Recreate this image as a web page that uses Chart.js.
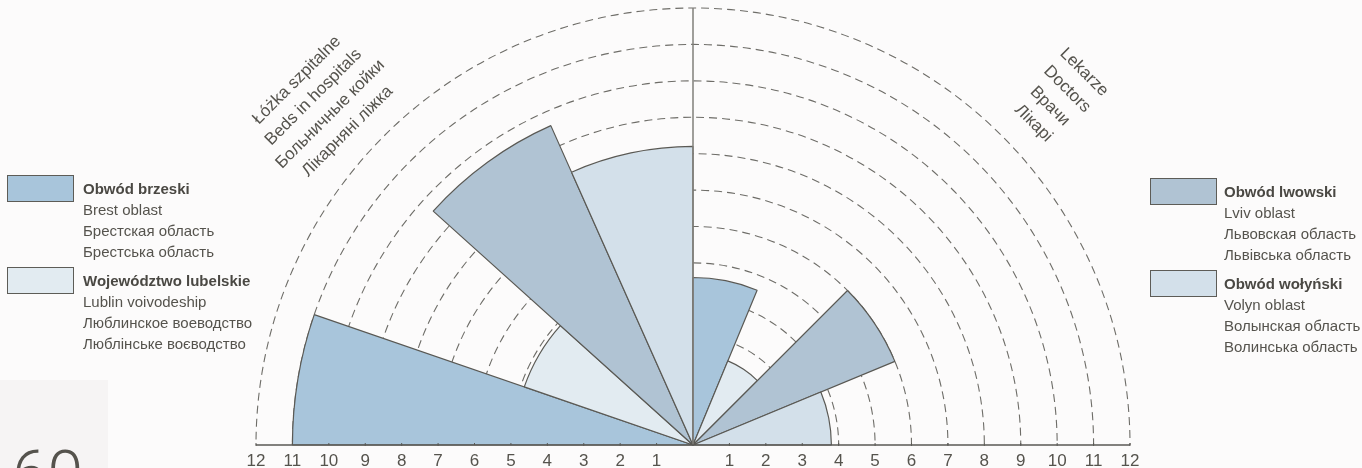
<!DOCTYPE html>
<html>
<head>
<meta charset="utf-8">
<script src="https://cdn.jsdelivr.net/npm/chart.js@4.4.1/dist/chart.umd.min.js"></script>
<style>
  html, body { margin: 0; padding: 0; }
  body {
    width: 1362px; height: 468px; overflow: hidden; position: relative;
    background: #fcfbfb; color: #55534d;
    font-family: "Liberation Sans", Arial, sans-serif;
  }
  #strip { position: absolute; left: 0; top: 380px; width: 108px; height: 88px; background: #f6f4f4; }
  #wrap { position: absolute; left: 0; top: 0; width: 1362px; height: 890px; }
  #chart { display: block; }
  .box { position: absolute; width: 65px; height: 25px; border: 1px solid #5d5c57; }
  .txt { position: absolute; font-size: 15px; line-height: 21px; white-space: nowrap; }
  .txt b { color: #4a4843; }
  .title { position: absolute; font-size: 17px; line-height: 20px; white-space: nowrap; }
  #page-num { position: absolute; left: 12px; top: 443px; font: 300 64px Roboto, sans-serif; line-height: 64px; color: #55534d; }
</style>
</head>
<body>
<div id="strip"></div>
<div id="wrap"><canvas id="chart" width="1362" height="890"></canvas></div>
<div id="page-num">60</div>
<script>
// ── Data ──────────────────────────────────────────────────────────────────
const regionNames   = ["Obwód brzeski", "Województwo lubelskie", "Obwód lwowski", "Obwód wołyński"];
const regionNamesEn = ["Brest oblast", "Lublin voivodeship", "Lviv oblast", "Volyn oblast"];
const regionNamesRu = ["Брестская область", "Люблинское воеводство", "Львовская область", "Волынская область"];
const regionNamesUa = ["Брестська область", "Люблінське воєводство", "Львівська область", "Волинська область"];
const regionColors  = ["#a8c5db", "#e2ebf1", "#b0c3d3", "#d3e0ea"];

// left half: hospital beds, right half: doctors (same region order)
const bedsValues    = [11.0, 4.9, 9.6, 8.2];
const doctorsValues = [4.6, 2.5, 6.0, 3.8];
const tickValues    = [1, 2, 3, 4, 5, 6, 7, 8, 9, 10, 11, 12];

// angular width of each wedge (deg) as drawn in the original
const bedsSpan    = [19, 23, 24, 24];
const doctorsSpan = [22.5, 22.5, 22.5, 22.5];

const bedsTitle    = ["Łóżka szpitalne", "Beds in hospitals", "Больничные койки", "Лікарняні ліжка"];
const doctorsTitle = ["Lekarze", "Doctors", "Врачи", "Лікарі"];

const LINE = "#5a5954";
const TEXT = "#55534d";

// ── Half disc helper: hide lower half of grid, draw axis + labels ─────────

const halfPlane = {
  id: "halfPlane",
  beforeDatasetsDraw(chart) {
    const r = chart.scales.r;
    chart.ctx.clearRect(0, r.yCenter + 1, chart.width, chart.height);
  },
  afterDraw(chart) {
    const r = chart.scales.r;
    const ctx = chart.ctx;
    const cx = r.xCenter, cy = r.yCenter;
    const full = r.getDistanceFromCenterForValue(r.max);
    ctx.save();
    // vertical divider between the two halves
    ctx.strokeStyle = "#807f7a";
    ctx.lineWidth = 1.5;
    ctx.beginPath();
    ctx.moveTo(cx, cy);
    ctx.lineTo(cx, cy - full);
    ctx.stroke();
    // baseline
    ctx.strokeStyle = LINE;
    ctx.lineWidth = 1.5;
    ctx.beginPath();
    ctx.moveTo(cx - full, cy);
    ctx.lineTo(cx + full, cy);
    ctx.stroke();
    // ticks + labels on both sides
    ctx.fillStyle = TEXT;
    ctx.font = '17px "Liberation Sans", Arial, sans-serif';
    ctx.textAlign = "center";
    ctx.textBaseline = "middle";
    ctx.lineWidth = 1;
    tickValues.forEach(v => {
      const d = r.getDistanceFromCenterForValue(v);
      [-1, 1].forEach(s => {
        const x = cx + s * d;
        ctx.beginPath();
        ctx.moveTo(x, cy);
        ctx.lineTo(x, cy - 2);
        ctx.stroke();
        ctx.fillText(String(v), x, cy + 16);
      });
    });
    ctx.restore();
  }
};

// ── Chart ─────────────────────────────────────────────────────────────────

const labels = [
  ...regionNames.map(n => "Beds – " + n),
  ...regionNames.map(n => "Doctors – " + n)
];

new Chart(document.getElementById("chart").getContext("2d"), {
  type: "polarArea",
  data: {
    labels,
    datasets: [{
      data: [...bedsValues, ...doctorsValues],
      backgroundColor: [...regionColors, ...regionColors],
      borderColor: LINE,
      borderWidth: 1.2,
      angle: [...bedsSpan, ...doctorsSpan]
    }]
  },
  options: {
    responsive: false,
    animation: false,
    layout: { padding: { left: 24, right: 0, top: 8, bottom: 8 } },
    plugins: { legend: { display: false }, tooltip: { enabled: false } },
    scales: {
      r: {
        min: 0,
        max: 12,
        startAngle: -90,
        ticks: { display: false, stepSize: 1 },
        grid: { circular: true, color: "#6e6d68", lineWidth: 1.1 },
        border: { dash: [8, 5] },
        angleLines: { display: false },
        pointLabels: { display: false }
      }
    }
  },
  plugins: [halfPlane]
});

// ── Legends ───────────────────────────────────────────────────────────────

function addLegend(i, boxLeft, txtLeft, top) {
  const box = document.createElement("div");
  box.className = "box";
  box.style.left = boxLeft + "px";
  box.style.top = top + "px";
  box.style.background = regionColors[i];
  document.body.appendChild(box);

  const txt = document.createElement("div");
  txt.className = "txt";
  txt.style.left = txtLeft + "px";
  txt.style.top = (top + 3) + "px";
  txt.innerHTML = `<b>${regionNames[i]}</b><br>${regionNamesEn[i]}<br>${regionNamesRu[i]}<br>${regionNamesUa[i]}`;
  document.body.appendChild(txt);
}

addLegend(0, 7, 83, 175);
addLegend(1, 7, 83, 267);
addLegend(2, 1150, 1224, 178);
addLegend(3, 1150, 1224, 270);

// ── Rotated half titles ───────────────────────────────────────────────────

function addTitle(lines, x0, y0, dx, dy, deg) {
  lines.forEach((line, k) => {
    const el = document.createElement("div");
    el.className = "title";
    el.textContent = line;
    document.body.appendChild(el);
    const w = el.offsetWidth, h = el.offsetHeight;
    el.style.left = (x0 + k * dx - w / 2) + "px";
    el.style.top = (y0 + k * dy - h / 2) + "px";
    el.style.transform = `rotate(${deg}deg)`;
  });
}

addTitle(bedsTitle, 296, 80, 17, 17, -45);
addTitle(doctorsTitle, 1084, 72, -17, 17, 45);
</script>
</body>
</html>
